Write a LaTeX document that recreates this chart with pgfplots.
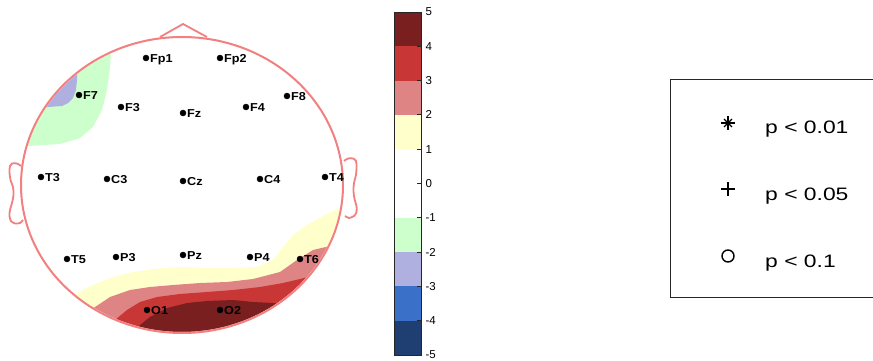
\documentclass[border=0pt]{standalone}
\usepackage{fontspec}
\setmainfont{Liberation Sans}
\usepackage{graphicx}
\usepackage{pgfplots}
\pgfplotsset{compat=1.18}
\definecolor{c5}{RGB}{122,31,31}
\definecolor{c4}{RGB}{201,54,54}
\definecolor{c3}{RGB}{222,132,132}
\definecolor{c2}{RGB}{255,255,204}
\definecolor{cm2}{RGB}{204,255,204}
\definecolor{cm3}{RGB}{176,176,224}
\definecolor{cm4}{RGB}{58,112,200}
\definecolor{cm5}{RGB}{31,62,114}
\definecolor{headc}{RGB}{242,128,128}
\begin{document}
\begin{tikzpicture}
\begin{axis}[
  at={(0,0)}, anchor=south west,
  width=873pt, height=361pt, scale only axis,
  xmin=0, xmax=873, ymin=0, ymax=361, y dir=reverse,
  hide axis, clip=false]
% ---- contour regions (pixel coordinates) ----
\addplot[fill=cm2, draw=none] coordinates {(112,15) (111,53) (110,67) (107,90) (102,110) (93,127) (80,138) (60,144) (28,146) (5,146) (5,15)} --cycle;
\addplot[fill=cm3, draw=none] coordinates {(78,55) (77,75) (77,80) (76,90) (73,98) (68,103) (62,106) (48,107) (25,107) (25,55)} --cycle;
\addplot[fill=c2, draw=none] coordinates {(0,301) (65,301) (77,293) (93,285) (113,277) (133,272) (153,269) (180,267) (207,268) (233,268) (257,267) (273,260) (283,247) (293,235) (307,225) (323,216) (342,207) (365,203) (365,361) (0,361)} --cycle;
\addplot[fill=c3, draw=none] coordinates {(0,318) (80,318) (95,307) (110,297) (130,290) (150,287) (173,285) (200,283) (227,282) (253,279) (280,272) (297,260) (313,250) (330,246) (350,240) (365,240) (365,361) (0,361)} --cycle;
\addplot[fill=c4, draw=none] coordinates {(0,325) (105,325) (115,320) (127,310) (140,302) (157,297) (180,294) (207,292) (233,290) (260,287) (283,283) (300,279) (308,277) (325,272) (365,272) (365,361) (0,361)} --cycle;
\addplot[fill=c5, draw=none] coordinates {(0,335) (130,335) (140,325) (150,317) (167,308) (187,303) (207,301) (233,300) (253,302) (273,303) (280,304) (300,300) (365,300) (365,361) (0,361)} --cycle;
% ---- mask outside head ----
\fill[white, even odd rule] (axis cs:-2,-2) rectangle (axis cs:375,363) (axis cs:182,185) ellipse [x radius=160, y radius=147];
% ---- head outline, nose, ears ----
\draw[headc, line width=2pt] (axis cs:182,185) ellipse [x radius=161, y radius=148];
\addplot[headc, line width=1.8pt] coordinates {(160,37) (183,24) (207,37)};
\addplot[headc, line width=1.8pt, smooth, tension=0.5] coordinates {(21,166) (17,163.5) (12,163.5) (10,166) (9.5,172) (10.5,180) (13,187) (13.5,195) (12,203) (10,210) (9.5,216) (11,221) (15,223.5) (20,223) (23,220)};
\addplot[headc, line width=1.8pt, smooth, tension=0.5] coordinates {(344,161) (348,158.5) (353,158.5) (356,161) (356.5,167) (356,175) (354,183) (353.5,191) (354.5,199) (356.5,206) (356.5,212) (354,216) (349,218) (345,216)};
% ---- electrodes ----
\addplot[only marks, mark=*, mark size=3pt, black,
  point meta=explicit symbolic,
  nodes near coords={\scalebox{1.1}[1]{\pgfplotspointmeta}},
  every node near coord/.append style={anchor=base west, inner sep=0pt, xshift=4pt, yshift=-4.5pt, font=\fontsize{11.5}{13}\selectfont\bfseries, text=black}]
 coordinates {(146,58) [Fp1] (220,58) [Fp2] (79,95) [F7] (121,107) [F3] (183,113) [Fz] (246,107) [F4] (287,96) [F8]
 (41,177) [T3] (107,179) [C3] (183,181) [Cz] (260,179) [C4] (325,177) [T4]
 (67,259) [T5] (116,257) [P3] (183,255) [Pz] (250,257) [P4] (300,259) [T6]
 (147,310) [O1] (220,310) [O2]};
% ---- significance legend ----
\draw[black!85, line width=1pt] (axis cs:670,80) rectangle (axis cs:890,297);
\addplot[only marks, mark=+, mark size=7pt, black, line width=1.3pt] coordinates {(728,123)};
\addplot[only marks, mark=x, mark size=5.5pt, black, line width=1.3pt] coordinates {(728,123)};
\addplot[only marks, mark=+, mark size=7pt, black, line width=1.1pt] coordinates {(728,189)};
\addplot[only marks, mark=o, mark size=6pt, black, line width=1.4pt] coordinates {(728,256)};
\node[anchor=base west, inner sep=0pt, font=\fontsize{18}{20}\selectfont] at (axis cs:765,133) {\scalebox{1.27}[1]{p < 0.01}};
\node[anchor=base west, inner sep=0pt, font=\fontsize{18}{20}\selectfont] at (axis cs:765,200) {\scalebox{1.27}[1]{p < 0.05}};
\node[anchor=base west, inner sep=0pt, font=\fontsize{18}{20}\selectfont] at (axis cs:765,267) {\scalebox{1.27}[1]{p < 0.1}};
\end{axis}
% ---- colorbar ----
\begin{axis}[
  at={(394pt,6pt)}, anchor=south west,
  width=27pt, height=343pt, scale only axis,
  xmin=0, xmax=1, ymin=-5, ymax=5,
  xtick=\empty, ytick={-5,-4,...,5},
  ytick pos=right, yticklabel pos=right,
  tick align=inside, major tick length=4pt,
  axis line style={draw=black!85, line width=0.8pt},
  tick style={draw=black!85, line width=0.8pt},
  tick label style={font=\fontsize{11.5}{13}\selectfont},
  yticklabel style={xshift=1pt},
  /pgf/number format/assume math mode=true,
  axis on top]
\addplot[fill=c5, draw=none] coordinates {(0,4) (1,4) (1,5) (0,5)} --cycle;
\addplot[fill=c4, draw=none] coordinates {(0,3) (1,3) (1,4) (0,4)} --cycle;
\addplot[fill=c3, draw=none] coordinates {(0,2) (1,2) (1,3) (0,3)} --cycle;
\addplot[fill=c2, draw=none] coordinates {(0,1) (1,1) (1,2) (0,2)} --cycle;
\addplot[fill=white, draw=none] coordinates {(0,-1) (1,-1) (1,1) (0,1)} --cycle;
\addplot[fill=cm2, draw=none] coordinates {(0,-2) (1,-2) (1,-1) (0,-1)} --cycle;
\addplot[fill=cm3, draw=none] coordinates {(0,-3) (1,-3) (1,-2) (0,-2)} --cycle;
\addplot[fill=cm4, draw=none] coordinates {(0,-4) (1,-4) (1,-3) (0,-3)} --cycle;
\addplot[fill=cm5, draw=none] coordinates {(0,-5) (1,-5) (1,-4) (0,-4)} --cycle;
\end{axis}
\pgfresetboundingbox
\path (0,0) rectangle (873pt,361pt);
\end{tikzpicture}
\end{document}
